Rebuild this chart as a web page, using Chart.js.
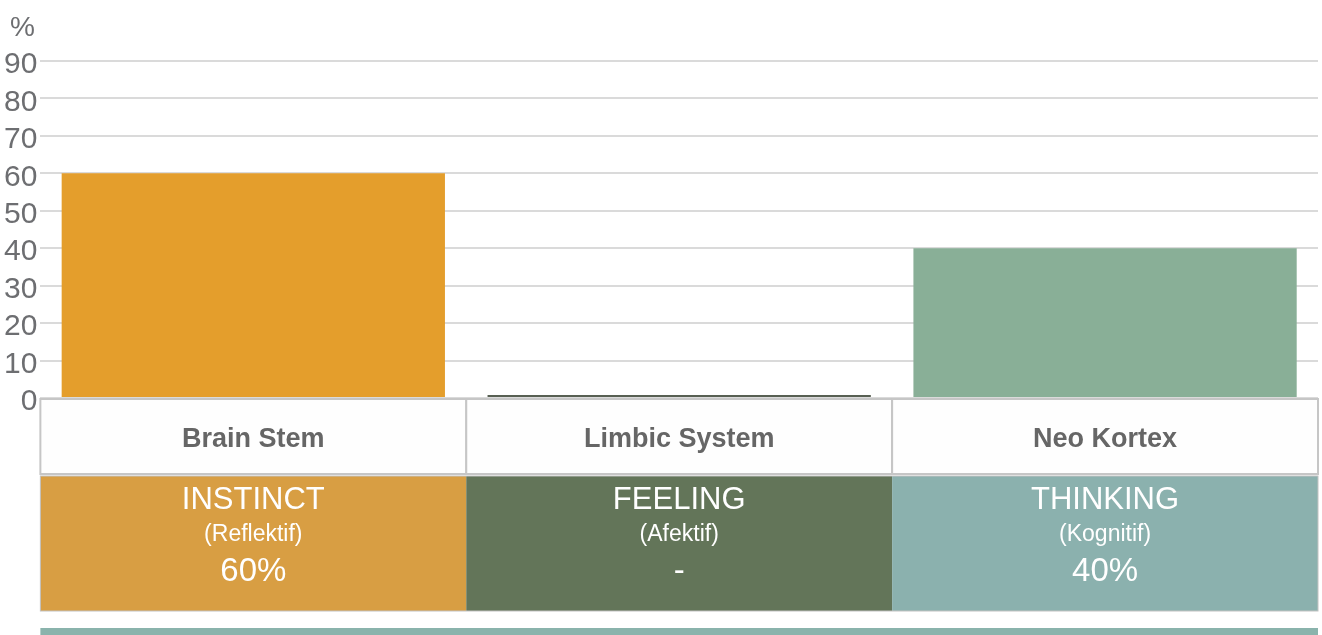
<!DOCTYPE html>
<html>
<head>
<meta charset="utf-8">
<script src="https://cdn.jsdelivr.net/npm/chart.js@4"></script>
<style>
  body { margin: 0; background: #fff; }
  #wrap { width: 1322px; height: 635px; position: relative; }
</style>
</head>
<body>
<div id="wrap"><canvas id="brain-chart"></canvas></div>
<script>
var categories = ["Brain Stem", "Limbic System", "Neo Kortex"];
var values = [60, 0, 40];
var traits = ["INSTINCT", "FEELING", "THINKING"];
var traitNotes = ["(Reflektif)", "(Afektif)", "(Kognitif)"];
var yMax = 90;
var yStep = 10;

var barColors = ["#e49e2c", "#575f52", "#89af97"];
var cellColors = ["#d89e43", "#637559", "#8bb1ae"];
var FONT = "'Liberation Sans', Arial, sans-serif";

// table under the bars + the "%" unit label
var tablePlugin = {
  id: "brainTable",
  afterDraw: function (chart) {
    var ctx = chart.ctx;
    var area = chart.chartArea;
    var n = categories.length;
    var colW = (area.right - area.left) / n;
    var top = area.bottom + 1;
    var headH = 75;
    var rowTop = top + headH + 2;
    var rowH = 135;

    ctx.save();
    ctx.fillStyle = "#6d6e71";
    ctx.font = "28px " + FONT;
    ctx.textAlign = "left";
    ctx.textBaseline = "middle";
    ctx.fillText("%", 10, 28);

    for (var i = 0; i < n; i++) {
      var x0 = area.left + i * colW;
      var cx = x0 + colW / 2;

      // header cell
      ctx.fillStyle = "#fefefe";
      ctx.fillRect(x0, top, colW, headH);
      ctx.strokeStyle = "#c6c6c6";
      ctx.lineWidth = 2;
      ctx.strokeRect(x0, top, colW, headH);
      ctx.fillStyle = "#666666";
      ctx.font = "bold 27px " + FONT;
      ctx.textAlign = "center";
      ctx.fillText(categories[i], cx, top + 41);

      // coloured cell
      ctx.fillStyle = cellColors[i];
      ctx.fillRect(x0, rowTop, colW, rowH);
      ctx.fillStyle = "#ffffff";
      ctx.font = "31px " + FONT;
      ctx.fillText(traits[i], cx, rowTop + 24);
      ctx.font = "23px " + FONT;
      ctx.fillText(traitNotes[i], cx, rowTop + 59);
      ctx.font = "33px " + FONT;
      ctx.fillText(values[i] > 0 ? values[i] + "%" : "-", cx, rowTop + 96);
    }
    ctx.strokeStyle = "#c2c2c2";
    ctx.lineWidth = 1;
    ctx.strokeRect(area.left, rowTop, area.right - area.left, rowH);

    // bottom strip
    ctx.fillStyle = "#8ab3ac";
    ctx.fillRect(area.left, area.bottom + 230, area.right - area.left, 10);
    ctx.restore();
  }
};

var chart = new Chart(document.getElementById("brain-chart").getContext("2d"), {
  type: "bar",
  data: {
    labels: categories,
    datasets: [
      {
        data: values,
        backgroundColor: barColors,
        borderWidth: 0,
        minBarLength: 3,
        categoryPercentage: 1,
        barPercentage: 0.9
      }
    ]
  },
  options: {
    responsive: true,
    maintainAspectRatio: false,
    animation: false,
    layout: { padding: { top: 61, left: 1, right: 4, bottom: 229 } },
    plugins: {
      legend: { display: false },
      tooltip: { enabled: false }
    },
    scales: {
      x: {
        grid: { display: false },
        border: { display: false },
        ticks: { display: false }
      },
      y: {
        min: 0,
        max: yMax,
        grid: { color: "#dadada", lineWidth: 2, drawTicks: false },
        border: { display: false },
        ticks: {
          stepSize: yStep,
          autoSkip: false,
          padding: 3,
          labelOffset: 4,
          color: "#6d6e71",
          font: { family: FONT, size: 30 }
        }
      }
    }
  },
  plugins: [tablePlugin]
});
</script>
</body>
</html>
